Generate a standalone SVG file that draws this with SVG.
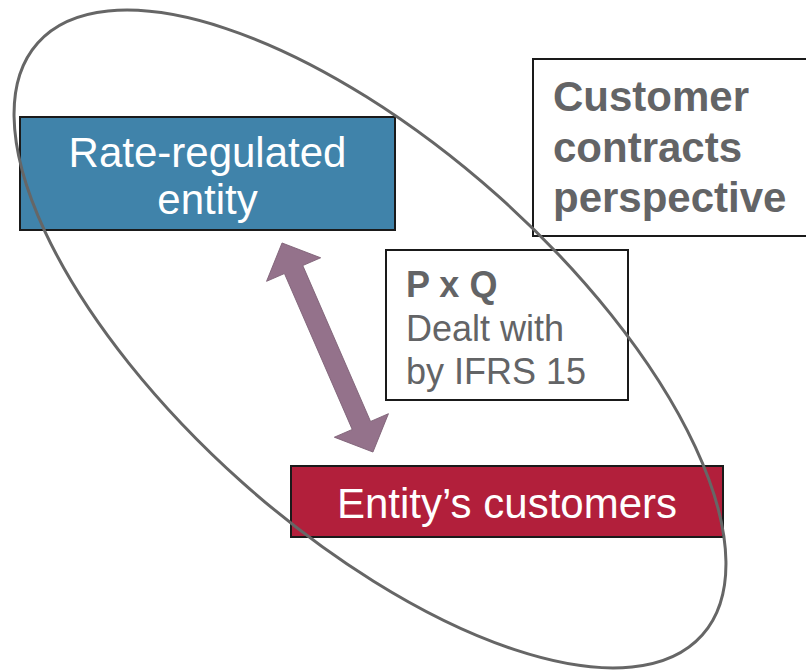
<svg xmlns="http://www.w3.org/2000/svg" width="806" height="671" viewBox="0 0 806 671">
<style>
.box{stroke:#1a1a1a;stroke-width:2}
.wt{fill:#ffffff;font-family:"Liberation Sans",Arial,sans-serif;font-size:42px}
.gt{fill:#636466;font-family:"Liberation Sans",Arial,sans-serif}
</style>
<rect width="806" height="671" fill="#ffffff"/>
<g id="rate-regulated-entity">
<rect class="box" x="20" y="117" width="375" height="113" fill="#4083AA"/>
<text class="wt" text-anchor="middle" x="207.5" y="167">Rate-regulated</text>
<text class="wt" text-anchor="middle" x="207.5" y="214">entity</text>
</g>
<g id="customer-contracts-perspective">
<rect class="box" x="533" y="59" width="280" height="177" fill="#ffffff"/>
<text class="gt" font-size="42" font-weight="bold" x="553" y="111">Customer</text>
<text class="gt" font-size="42" font-weight="bold" x="553" y="162">contracts</text>
<text class="gt" font-size="42" font-weight="bold" x="553" y="212">perspective</text>
</g>
<g id="pxq">
<rect class="box" x="386" y="250" width="242" height="150" fill="#ffffff"/>
<text class="gt" font-size="36" font-weight="bold" x="406" y="297">P x Q</text>
<text class="gt" font-size="36" x="406" y="341">Dealt with</text>
<text class="gt" font-size="36" x="406" y="384">by IFRS 15</text>
</g>
<g id="entitys-customers">
<rect class="box" x="291" y="466" width="432" height="71" fill="#B21F3B"/>
<text class="wt" text-anchor="middle" x="507" y="518">Entity’s customers</text>
</g>
<g id="connectors">
<polygon transform="translate(327.5,347.5) rotate(-23.5)" points="0,-114 29.5,-85 10,-85 10,85 29.5,85 0,114 -29.5,85 -10,85 -10,-85 -29.5,-85" fill="#94728B" stroke="#7d5f75" stroke-width="0.8"/>
</g>
<g id="perspective-ellipse">
<ellipse cx="370" cy="339" rx="445" ry="192" transform="rotate(41.7 370 339)" fill="none" stroke="#666666" stroke-width="3"/>
</g>
</svg>
